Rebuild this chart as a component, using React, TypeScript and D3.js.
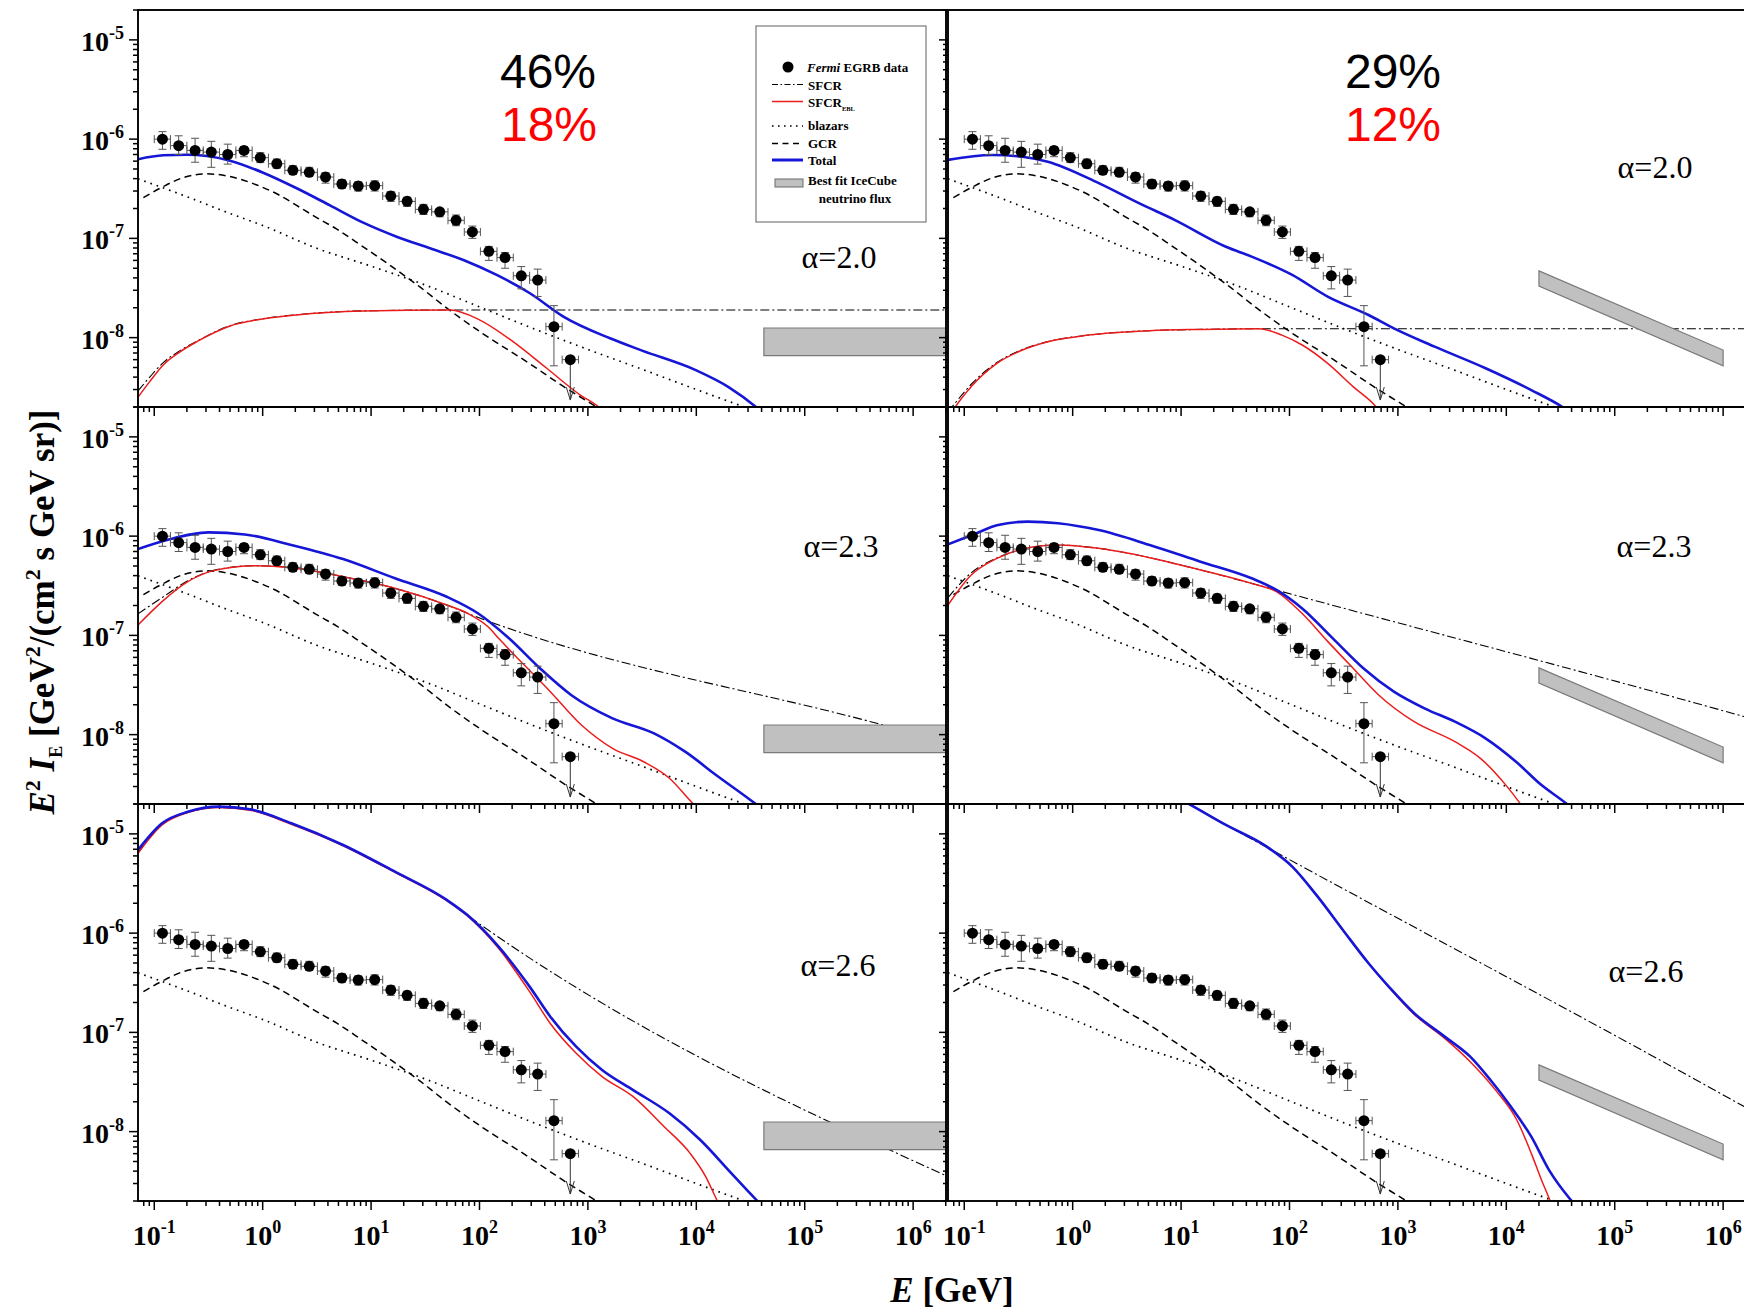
import React from "react";
import * as d3 from "d3";

type Pt = [number, number];

// ---------------- Fermi EGRB data (same in every panel) ----------------
const egrbE = [0.119, 0.168, 0.238, 0.336, 0.476, 0.673, 0.951, 1.35, 1.9, 2.69, 3.8, 5.38, 7.61, 10.8, 15.2, 21.5, 30.4, 43.0, 60.8, 86.0, 122, 172, 243, 344, 486, 688];
const egrbLo = [0.1, 0.141, 0.2, 0.283, 0.4, 0.566, 0.8, 1.13, 1.6, 2.26, 3.2, 4.53, 6.4, 9.05, 12.8, 18.1, 25.6, 36.2, 51.2, 72.4, 102, 145, 205, 290, 410, 579];
const egrbHi = [0.141, 0.2, 0.283, 0.4, 0.566, 0.8, 1.13, 1.6, 2.26, 3.2, 4.53, 6.4, 9.05, 12.8, 18.1, 25.6, 36.2, 51.2, 72.4, 102, 145, 205, 290, 410, 579, 820];
const egrbF = [1.0e-6, 8.6e-7, 7.7e-7, 7.4e-7, 7.0e-7, 7.7e-7, 6.5e-7, 5.65e-7, 4.85e-7, 4.63e-7, 4.15e-7, 3.53e-7, 3.37e-7, 3.4e-7, 2.67e-7, 2.36e-7, 1.96e-7, 1.85e-7, 1.52e-7, 1.16e-7, 7.4e-8, 6.4e-8, 4.2e-8, 3.8e-8, 1.29e-8, 6.0e-9];
const egrbUp = [1.19e-6, 1.08e-6, 1.02e-6, 9.5e-7, 8.9e-7, 8.4e-7, 7.3e-7, 6.3e-7, 5.4e-7, 5.2e-7, 4.6e-7, 3.9e-7, 3.7e-7, 3.8e-7, 2.97e-7, 2.6e-7, 2.2e-7, 2.0e-7, 1.72e-7, 1.33e-7, 8.3e-8, 7.2e-8, 5.2e-8, 4.9e-8, 2.1e-8, 6.0e-9];
const egrbDown = [7.9e-7, 7.0e-7, 5.85e-7, 5.2e-7, 5.6e-7, 6.65e-7, 5.8e-7, 5.1e-7, 4.4e-7, 4.25e-7, 3.6e-7, 3.2e-7, 3.0e-7, 3.0e-7, 2.36e-7, 2.1e-7, 1.74e-7, 1.65e-7, 1.34e-7, 1.0e-7, 6.0e-8, 5.0e-8, 3.1e-8, 2.6e-8, 5.2e-9, 2.35e-9];
const egrbUpperLimit = [false, false, false, false, false, false, false, false, false, false, false, false, false, false, false, false, false, false, false, false, false, false, false, false, false, true];

// ---------------- shared model curves ----------------
const gcrE = [0.0794, 0.12, 0.182, 0.302, 0.49, 0.871, 1.43, 2.04, 3.09, 4.79, 8.32, 15.8, 28.2, 52.5, 107, 288, 589, 1200, 2000];
const gcrF = [2.57e-7, 3.31e-7, 4.07e-7, 4.47e-7, 4.22e-7, 3.47e-7, 2.72e-7, 2.16e-7, 1.64e-7, 1.245e-7, 8.32e-8, 5.13e-8, 3.24e-8, 1.905e-8, 1.1e-8, 5.5e-9, 3.24e-9, 2.0e-9, 1.38e-9];
const blzE = [0.0708, 0.2, 0.5, 1, 3.16, 10, 31.6, 100, 316, 1000, 3160, 1e4, 3.16e4];
const blzF = [3.98e-7, 2.63e-7, 1.78e-7, 1.35e-7, 7.94e-8, 5.25e-8, 3.39e-8, 2.04e-8, 1.23e-8, 7.6e-9, 4.8e-9, 3.0e-9, 1.9e-9];

// ---------------- alpha = 2.0 ----------------
const sfcrA20E = [0.0708, 0.0908, 0.121, 0.173, 0.247, 0.5, 1.0, 2.04, 8.5, 53.7, 2.01e6];
const sfcrA20F = [2.9e-9, 4.0e-9, 5.6e-9, 7.4e-9, 9.2e-9, 1.32e-8, 1.55e-8, 1.7e-8, 1.86e-8, 1.9e-8, 1.9e-8];
const eblA20E = [0.0708, 0.0908, 0.121, 0.173, 0.247, 0.5, 1.0, 2.04, 8.5, 53.7, 100, 204, 417, 851, 1259, 1585];
const eblA20F = [2.51e-9, 3.6e-9, 5.3e-9, 7.2e-9, 9.1e-9, 1.31e-8, 1.54e-8, 1.69e-8, 1.85e-8, 1.9e-8, 1.51e-8, 9.1e-9, 4.91e-9, 2.64e-9, 2.0e-9, 1.58e-9];
const totA20E = [0.0708, 0.121, 0.2, 0.305, 0.5, 1.01, 2.06, 4.18, 8.47, 17.2, 35.0, 71.0, 144, 292, 594, 1600, 3162, 1e4, 2e4, 3.55e4, 4.2e4];
const totA20F = [6.27e-7, 6.87e-7, 6.97e-7, 6.76e-7, 6.07e-7, 4.59e-7, 3.2e-7, 2.15e-7, 1.44e-7, 1.04e-7, 7.94e-8, 6.05e-8, 4.28e-8, 2.8e-8, 1.63e-8, 9.84e-9, 7.4e-9, 4.68e-9, 3.16e-9, 2.0e-9, 1.7e-9];

const sfcrB20E = [0.0708, 0.0824, 0.116, 0.2, 0.344, 0.59, 1.4, 5.13, 15.1, 52.4, 2.01e6];
const sfcrB20F = [1.78e-9, 2.19e-9, 3.39e-9, 5.62e-9, 7.59e-9, 9.12e-9, 1.06e-8, 1.175e-8, 1.21e-8, 1.23e-8, 1.23e-8];
const eblB20E = [0.0708, 0.0824, 0.116, 0.2, 0.344, 0.59, 1.4, 5.13, 15.1, 52.4, 85.1, 131, 225, 386, 628, 794];
const eblB20F = [1.5e-9, 1.99e-9, 3.21e-9, 5.51e-9, 7.5e-9, 9.1e-9, 1.06e-8, 1.175e-8, 1.21e-8, 1.23e-8, 1.06e-8, 8.43e-9, 5.51e-9, 3.21e-9, 2.01e-9, 1.4e-9];
const totB20E = [0.0708, 0.179, 0.344, 0.59, 1.74, 4.13, 8.79, 25.9, 44.7, 106, 225, 536, 918, 2183, 6442, 1.7e4, 3.27e4, 3.98e4];
const totB20F = [6.17e-7, 6.92e-7, 6.65e-7, 5.93e-7, 3.6e-7, 2.25e-7, 1.53e-7, 8.24e-8, 6.55e-8, 4.28e-8, 2.59e-8, 1.69e-8, 1.24e-8, 8.11e-9, 4.91e-9, 2.96e-9, 2.01e-9, 1.74e-9];

// ---------------- alpha = 2.3 ----------------
const sfcrA23E = [0.0708, 0.118, 0.204, 0.354, 0.851, 1.84, 5.52, 16.6, 49.9, 77.4, 4.62e5, 2.01e6];
const sfcrA23F = [1.65e-7, 2.4e-7, 3.55e-7, 4.52e-7, 5.04e-7, 4.81e-7, 3.9e-7, 2.98e-7, 2.02e-7, 1.67e-7, 1.3e-8, 8.45e-9];
const eblA23E = [0.0708, 0.118, 0.204, 0.354, 0.851, 1.84, 5.52, 16.6, 49.9, 77.4, 120, 150, 259, 450, 871, 1687, 3258, 5649, 9268, 1.12e4];
const eblA23F = [1.27e-7, 2.19e-7, 3.48e-7, 4.49e-7, 5.04e-7, 4.81e-7, 3.9e-7, 2.98e-7, 2.02e-7, 1.67e-7, 1.22e-7, 9.33e-8, 5.02e-8, 2.71e-8, 1.25e-8, 7.28e-9, 5.33e-9, 3.63e-9, 2.03e-9, 1.66e-9];
const totA23E = [0.0708, 0.131, 0.316, 0.684, 1.84, 5.52, 16.6, 49.9, 96.6, 187, 361, 700, 1687, 4074, 7889, 1.52e4, 3.47e4, 4.17e4];
const totA23F = [7.41e-7, 9.14e-7, 1.09e-6, 1.04e-6, 8.15e-7, 5.87e-7, 3.76e-7, 2.45e-7, 1.67e-7, 9.35e-8, 4.66e-8, 2.51e-8, 1.46e-8, 1.03e-8, 6.73e-9, 3.92e-9, 2.03e-9, 1.74e-9];

const sfcrB23E = [0.0708, 0.116, 0.2, 0.344, 0.733, 1.74, 5.13, 15.1, 44.7, 76.4, 1.56e6, 2.04e6];
const sfcrB23F = [2.4e-7, 4.27e-7, 6.03e-7, 7.41e-7, 8.15e-7, 7.53e-7, 6.07e-7, 4.56e-7, 3.34e-7, 2.85e-7, 1.52e-8, 1.4e-8];
const eblB23E = [0.0708, 0.116, 0.2, 0.344, 0.733, 1.74, 5.13, 15.1, 44.7, 76.4, 131, 225, 386, 664, 1413, 3357, 5768, 9908, 1.34e4, 1.58e4];
const eblB23F = [2.02e-7, 4.06e-7, 5.97e-7, 7.41e-7, 8.15e-7, 7.53e-7, 6.07e-7, 4.56e-7, 3.34e-7, 2.75e-7, 1.66e-7, 8.7e-8, 4.66e-8, 2.51e-8, 1.35e-8, 8.49e-9, 5.77e-9, 3.1e-9, 2.03e-9, 1.58e-9];
const totB23E = [0.0708, 0.13, 0.2, 0.383, 0.733, 1.74, 5.13, 15.1, 44.7, 76.4, 131, 251, 480, 918, 1758, 3357, 6427, 1.23e4, 2.11e4, 3.55e4, 4.27e4];
const totB23F = [8.26e-7, 1.07e-6, 1.29e-6, 1.4e-6, 1.35e-6, 1.15e-6, 8.15e-7, 5.53e-7, 3.76e-7, 2.86e-7, 1.87e-7, 9.33e-8, 4.66e-8, 2.71e-8, 1.84e-8, 1.35e-8, 9.18e-9, 5.33e-9, 3.1e-9, 2.03e-9, 1.7e-9];

// ---------------- alpha = 2.6 ----------------
const sfcrA26E = [0.0708, 0.118, 0.204, 0.395, 0.764, 1.84, 5.52, 16.6, 49.9, 69.7, 2.1e6];
const sfcrA26F = [6.46e-6, 1.24e-5, 1.65e-5, 1.85e-5, 1.75e-5, 1.26e-5, 7.66e-6, 4.12e-6, 2.14e-6, 1.64e-6, 3.52e-9];
const eblA26E = [0.0708, 0.118, 0.204, 0.395, 0.764, 1.84, 5.52, 16.6, 49.9, 77.4, 150, 290, 450, 780, 1352, 2618, 5058, 8770, 1.22e4, 1.52e4, 1.7e4];
const eblA26F = [6.37e-6, 1.23e-5, 1.64e-5, 1.84e-5, 1.73e-5, 1.25e-5, 7.6e-6, 4.09e-6, 2.12e-6, 1.49e-6, 7.03e-7, 2.57e-7, 1.23e-7, 6.15e-8, 3.58e-8, 2.25e-8, 1.12e-8, 6.04e-9, 3.52e-9, 2.13e-9, 1.66e-9];
const totA26E = [0.0708, 0.118, 0.204, 0.395, 0.764, 1.84, 5.52, 16.6, 49.9, 77.4, 150, 290, 450, 780, 1352, 2618, 5649, 1.09e4, 2.11e4, 3.47e4, 4.17e4];
const totA26F = [6.89e-6, 1.28e-5, 1.67e-5, 1.88e-5, 1.77e-5, 1.28e-5, 7.73e-6, 4.16e-6, 2.16e-6, 1.52e-6, 7.31e-7, 2.89e-7, 1.44e-7, 7.18e-8, 4.18e-8, 2.62e-8, 1.53e-8, 8.24e-9, 3.8e-9, 2.13e-9, 1.74e-9];

const sfcrB26E = [7.94, 11.5, 25.9, 68.5, 1.56e6, 2.04e6];
const sfcrB26F = [2.51e-5, 2.03e-5, 1.23e-5, 6.89e-6, 1.79e-8, 1.52e-8];
const eblB26E = [7.94, 11.5, 25.9, 61.7, 106, 182, 312, 536, 824, 1413, 2704, 4645, 7962, 1.25e4, 1.7e4, 2.11e4, 2.48e4, 2.69e4];
const eblB26F = [2.51e-5, 2.03e-5, 1.23e-5, 7.43e-6, 4.68e-6, 2.33e-6, 1.07e-6, 4.97e-7, 2.85e-7, 1.52e-7, 8.7e-8, 5.07e-8, 2.62e-8, 1.31e-8, 6.04e-9, 3.26e-9, 2.13e-9, 1.66e-9];
const totB26E = [7.94, 11.5, 25.9, 61.7, 106, 182, 312, 536, 824, 1413, 2704, 4645, 7145, 1.1e4, 1.7e4, 2.48e4, 3.82e4, 4.47e4];
const totB26F = [2.51e-5, 2.03e-5, 1.23e-5, 7.43e-6, 4.68e-6, 2.33e-6, 1.07e-6, 4.97e-7, 2.89e-7, 1.56e-7, 9.06e-8, 5.69e-8, 3.31e-8, 1.79e-8, 8.89e-9, 4.1e-9, 2.13e-9, 1.74e-9];

// ---------------- IceCube best-fit neutrino bands ----------------
const bandFlatE = [4.2e4, 2.01e6];
const bandFlatF = [6.6e-9, 1.25e-8];
const bandSlopeE = [2.0e4, 1.0e6];
const bandSlopeTop = [4.7e-8, 7.5e-9];
const bandSlopeBot = [3.3e-8, 5.2e-9];

// ---------------- labels ----------------
const alphaLabels = ["α=2.0", "α=2.0", "α=2.3", "α=2.3", "α=2.6", "α=2.6"];
const pctBlack = ["46%", "29%"];
const pctRed = ["18%", "12%"];
const xTickExps = [-1, 0, 1, 2, 3, 4, 5, 6];
const yTickExps = [-5, -6, -7, -8];

// ---------------- layout ----------------
const W = 1744, H = 1311;
const PW = 808, PH = 397;
const COL_X = [138, 948];
const ROW_Y = [10, 407, 804];
const X_DOMAIN: [number, number] = [0.0708, 2.01e6];
const Y_DOMAIN: [number, number] = [2e-9, 2e-5];
const SERIF = "'Liberation Serif','Times New Roman',Times,serif";
const SANS = "'Liberation Sans',Arial,Helvetica,sans-serif";
const BLUE = "#1616d6";
const RED = "#ec1c1c";

const zip = (e: number[], f: number[]): Pt[] => e.map((v, i) => [v, f[i]]);

const panels = [
  { col: 0, row: 0, sfcr: zip(sfcrA20E, sfcrA20F), ebl: zip(eblA20E, eblA20F), tot: zip(totA20E, totA20F), alphaPos: [701, 258] },
  { col: 1, row: 0, sfcr: zip(sfcrB20E, sfcrB20F), ebl: zip(eblB20E, eblB20F), tot: zip(totB20E, totB20F), alphaPos: [707, 168] },
  { col: 0, row: 1, sfcr: zip(sfcrA23E, sfcrA23F), ebl: zip(eblA23E, eblA23F), tot: zip(totA23E, totA23F), alphaPos: [703, 150] },
  { col: 1, row: 1, sfcr: zip(sfcrB23E, sfcrB23F), ebl: zip(eblB23E, eblB23F), tot: zip(totB23E, totB23F), alphaPos: [706, 150] },
  { col: 0, row: 2, sfcr: zip(sfcrA26E, sfcrA26F), ebl: zip(eblA26E, eblA26F), tot: zip(totA26E, totA26F), alphaPos: [700, 172] },
  { col: 1, row: 2, sfcr: zip(sfcrB26E, sfcrB26F), ebl: zip(eblB26E, eblB26F), tot: zip(totB26E, totB26F), alphaPos: [698, 178] },
];

const DASHDOT = "9,3,2,3";
const DASHED = "7,4.5";
const DOTTED = "1.6,5";

function Sup({ base, exp, size, shift }: { base: string; exp: string; size: number; shift: number }) {
  return (
    <>
      <tspan>{base}</tspan>
      <tspan dy={-shift} fontSize={size}>{exp}</tspan>
    </>
  );
}

function Panel({ p, idx }: { p: any; idx: number }) {
  const x = d3.scaleLog().domain(X_DOMAIN).range([0, PW]);
  const y = d3.scaleLog().domain(Y_DOMAIN).range([PH, 0]);
  const line = d3
    .line<Pt>()
    .x((d) => x(d[0]))
    .y((d) => y(d[1]))
    .curve(d3.curveMonotoneX);
  const ox = COL_X[p.col];
  const oy = ROW_Y[p.row];
  const clipId = `clip-${idx}`;

  const xTicks: { v: number; major: boolean }[] = [];
  for (let k = -2; k <= 6; k++)
    for (let m = 1; m <= 9; m++) {
      const v = m * Math.pow(10, k);
      if (v >= X_DOMAIN[0] && v <= X_DOMAIN[1]) xTicks.push({ v, major: m === 1 });
    }
  const yTicks: { v: number; major: boolean }[] = [];
  for (let k = -9; k <= -5; k++)
    for (let m = 1; m <= 9; m++) {
      const v = m * Math.pow(10, k);
      if (v >= Y_DOMAIN[0] * 0.999 && v <= Y_DOMAIN[1] * 1.001) yTicks.push({ v, major: m === 1 });
    }

  let bandPath: string;
  if (p.col === 0) {
    bandPath = `M${x(bandFlatE[0])},${y(bandFlatF[1])}L${x(bandFlatE[1])},${y(bandFlatF[1])}L${x(bandFlatE[1])},${y(bandFlatF[0])}L${x(bandFlatE[0])},${y(bandFlatF[0])}Z`;
  } else {
    bandPath = `M${x(bandSlopeE[0])},${y(bandSlopeTop[0])}L${x(bandSlopeE[1])},${y(bandSlopeTop[1])}L${x(bandSlopeE[1])},${y(bandSlopeBot[1])}L${x(bandSlopeE[0])},${y(bandSlopeBot[0])}Z`;
  }

  return (
    <g transform={`translate(${ox},${oy})`}>
      <clipPath id={clipId}>
        <rect x={0} y={0} width={PW} height={PH} />
      </clipPath>
      <g clipPath={`url(#${clipId})`}>
        <path d={line(zip(gcrE, gcrF)) || ""} fill="none" stroke="#000" strokeWidth={1.5} strokeDasharray={DASHED} />
        <path d={line(zip(blzE, blzF)) || ""} fill="none" stroke="#000" strokeWidth={1.7} strokeDasharray={DOTTED} />
        <path d={line(p.sfcr) || ""} fill="none" stroke="#000" strokeWidth={1.1} strokeDasharray={DASHDOT} />
        <path d={line(p.ebl) || ""} fill="none" stroke={RED} strokeWidth={1.5} />
        <path d={line(p.tot) || ""} fill="none" stroke={BLUE} strokeWidth={2.6} />
        <path d={bandPath} fill="#c0c0c0" stroke="#7a7a7a" strokeWidth={1.2} />
        {egrbE.map((e, i) => {
          const cx = x(e);
          const cy = y(egrbF[i]);
          const xl = x(egrbLo[i]);
          const xh = x(egrbHi[i]);
          const yt = y(egrbUp[i]);
          const yb = y(egrbDown[i]);
          const ul = egrbUpperLimit[i];
          return (
            <g key={i}>
              <line x1={xl} x2={xh} y1={cy} y2={cy} stroke="#555" strokeWidth={1} />
              <line x1={xl} x2={xl} y1={cy - 4} y2={cy + 4} stroke="#555" strokeWidth={1} />
              <line x1={xh} x2={xh} y1={cy - 4} y2={cy + 4} stroke="#555" strokeWidth={1} />
              {ul ? (
                <g stroke="#333" strokeWidth={1} fill="none">
                  <line x1={cx} x2={cx} y1={cy} y2={yb} />
                  <polyline points={`${cx - 4},${yb - 13} ${cx},${yb} ${cx + 4},${yb - 13}`} />
                </g>
              ) : (
                <g stroke="#555" strokeWidth={1}>
                  <line x1={cx} x2={cx} y1={yt} y2={yb} />
                  <line x1={cx - 4} x2={cx + 4} y1={yt} y2={yt} />
                  <line x1={cx - 4} x2={cx + 4} y1={yb} y2={yb} />
                </g>
              )}
              <circle cx={cx} cy={cy} r={5.5} fill="#000" />
            </g>
          );
        })}
      </g>
      <rect x={0} y={0} width={PW} height={PH} fill="none" stroke="#000" strokeWidth={1.9} />
      {xTicks.map((t, i) => (
        <line key={`xt${i}`} x1={x(t.v)} x2={x(t.v)} y1={PH} y2={PH + (t.major ? 9 : 5)} stroke="#000" strokeWidth={1.5} />
      ))}
      {yTicks.map((t, i) => (
        <line key={`yt${i}`} x1={0} x2={t.major ? -9 : -5} y1={y(t.v)} y2={y(t.v)} stroke="#000" strokeWidth={1.5} />
      ))}
      {p.col === 0 &&
        yTickExps.map((e) => (
          <text key={`yl${e}`} x={-14} y={y(Math.pow(10, e)) + 11} textAnchor="end" fontFamily={SERIF} fontWeight="bold" fontSize={28} fill="#000">
            <Sup base="10" exp={`${e}`} size={18} shift={12} />
          </text>
        ))}
      {p.row === 2 &&
        xTickExps.map((e) => (
          <text key={`xl${e}`} x={x(Math.pow(10, e))} y={PH + 44} textAnchor="middle" fontFamily={SERIF} fontWeight="bold" fontSize={28} fill="#000">
            <Sup base="10" exp={`${e}`} size={18} shift={12} />
          </text>
        ))}
      <text x={p.alphaPos[0]} y={p.alphaPos[1]} textAnchor="middle" fontFamily={SERIF} fontSize={32} fill="#000">
        {alphaLabels[idx]}
      </text>
      {p.row === 0 && (
        <>
          <text x={p.col === 0 ? 410 : 445} y={78} textAnchor="middle" fontFamily={SANS} fontSize={48} fill="#000">
            {pctBlack[p.col]}
          </text>
          <text x={p.col === 0 ? 411 : 445} y={131} textAnchor="middle" fontFamily={SANS} fontSize={48} fill="#ff0000">
            {pctRed[p.col]}
          </text>
        </>
      )}
    </g>
  );
}

function Legend() {
  const tx = 808;
  const x1 = 772;
  const x2 = 803;
  const fs = 13;
  const common = { fontFamily: SERIF, fontWeight: "bold" as const, fontSize: fs, fill: "#000" };
  return (
    <g>
      <rect x={756} y={26} width={170} height={196} fill="#fff" stroke="#7a7a7a" strokeWidth={1.2} />
      <circle cx={788} cy={67} r={5.5} fill="#000" />
      <text x={tx - 1} y={71.5} {...common} style={{ whiteSpace: "pre" }}>
        <tspan fontStyle="italic">Fermi</tspan>
        <tspan> EGRB data</tspan>
      </text>
      <line x1={x1} x2={x2} y1={84.5} y2={84.5} stroke="#000" strokeWidth={1.1} strokeDasharray="6,2.5,1.5,2.5" />
      <text x={tx} y={89.5} {...common}>SFCR</text>
      <line x1={x1} x2={x2} y1={101.5} y2={101.5} stroke={RED} strokeWidth={1.5} />
      <text x={tx} y={106.5} {...common}>
        <tspan>SFCR</tspan>
        <tspan dy={4} fontSize={6.5}>EBL</tspan>
      </text>
      <line x1={x1} x2={x2} y1={126} y2={126} stroke="#000" strokeWidth={1.6} strokeDasharray="1.6,4.4" />
      <text x={tx} y={130} {...common}>blazars</text>
      <line x1={x1} x2={x2} y1={143.5} y2={143.5} stroke="#000" strokeWidth={1.5} strokeDasharray="6,4.5" />
      <text x={tx} y={148} {...common}>GCR</text>
      <line x1={x1} x2={x2} y1={160} y2={160} stroke={BLUE} strokeWidth={3} />
      <text x={tx} y={165} {...common}>Total</text>
      <rect x={775} y={179} width={28} height={8} fill="#c0c0c0" stroke="#6a6a6a" strokeWidth={1} />
      <text x={tx} y={185} {...common}>Best fit IceCube</text>
      <text x={855} y={203} textAnchor="middle" {...common}>neutrino flux</text>
    </g>
  );
}

export default function App() {
  return (
    <svg
      width={W}
      height={H}
      viewBox={`0 0 ${W} ${H}`}
      style={{ position: "absolute", left: 0, top: 0, background: "#fff", display: "block" }}
    >
      <rect x={0} y={0} width={W} height={H} fill="#fff" />
      {panels.map((p, i) => (
        <Panel key={i} p={p} idx={i} />
      ))}
      <Legend />
      <text
        transform="translate(54,612) rotate(-90)"
        textAnchor="middle"
        fontFamily={SERIF}
        fontWeight="bold"
        fontSize={35}
        fill="#000"
        style={{ whiteSpace: "pre" }}
      >
        <tspan fontStyle="italic">E</tspan>
        <tspan dy={-14} fontSize={22}>2</tspan>
        <tspan dy={14}> </tspan>
        <tspan fontStyle="italic">I</tspan>
        <tspan dy={8} fontSize={18}>E</tspan>
        <tspan dy={-8}> [GeV</tspan>
        <tspan dy={-14} fontSize={22}>2</tspan>
        <tspan dy={14}>/(cm</tspan>
        <tspan dy={-14} fontSize={22}>2</tspan>
        <tspan dy={14}> s GeV sr)]</tspan>
      </text>
      <text x={952} y={1302} textAnchor="middle" fontFamily={SERIF} fontWeight="bold" fontSize={35} fill="#000" style={{ whiteSpace: "pre" }}>
        <tspan fontStyle="italic">E</tspan>
        <tspan> [GeV]</tspan>
      </text>
    </svg>
  );
}
